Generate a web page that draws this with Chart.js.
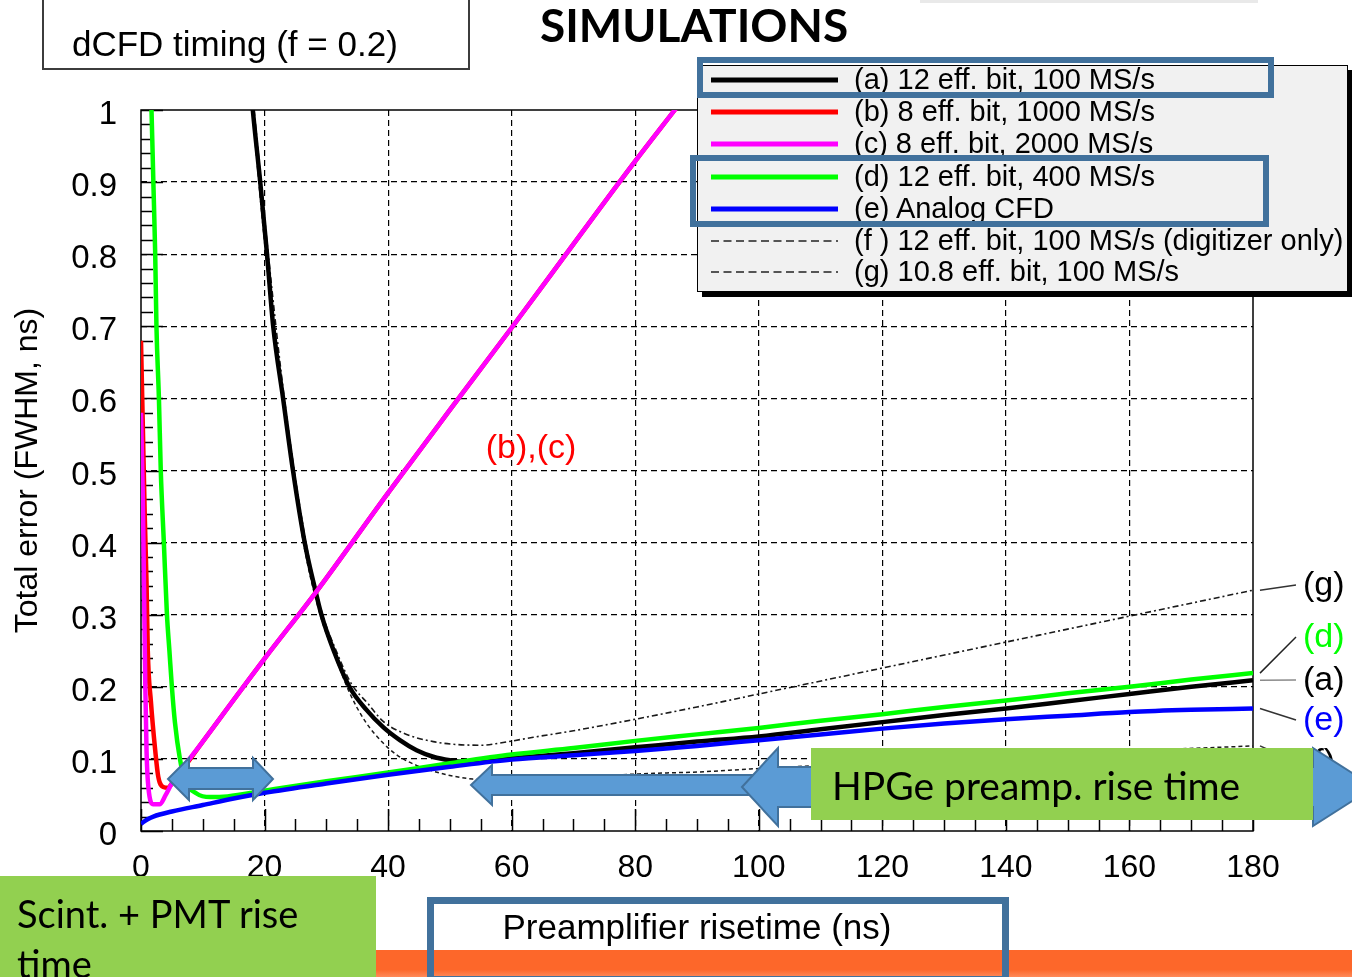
<!DOCTYPE html>
<html>
<head>
<meta charset="utf-8">
<title>dCFD timing - total error vs preamplifier risetime</title>
<script src="https://cdn.jsdelivr.net/npm/chart.js@4.4.1/dist/chart.umd.min.js"></script>
<style>
  html, body { margin: 0; padding: 0; background: #fff; }
  #wrap { position: relative; width: 1352px; height: 977px; overflow: hidden; font-family: 'Liberation Sans', Arial, sans-serif; color: #000; }
  #plot { position: absolute; left: 0; top: 0; }
  .abs { position: absolute; white-space: nowrap; }
  #topStrip { left: 920px; top: 0; width: 338px; height: 3px; background: #e9e9e9; }
  #infoBox { left: 42px; top: -20px; width: 428px; height: 90px; box-sizing: border-box; border: 2px solid #3c3c3c; }
  #infoText { left: 72px; top: 26px; font-size: 35px; line-height: 35px; }
  #simTitle { left: 540px; top: 2px; font-family: Lato, sans-serif; font-weight: 700; font-size: 46px; line-height: 46px; }
  #legendBox { left: 697px; top: 65px; width: 651px; height: 227px; box-sizing: border-box; background: #f1f1f1; border: 1px solid #000; box-shadow: 5px 5px 0 0 #000; }
  .legRow { position: absolute; left: 0; height: 0; }
  .legText { position: absolute; left: 156px; top: -15px; font-size: 29px; line-height: 29px; white-space: nowrap; }
  .legLine { position: absolute; left: 13px; top: -5px; }
  .hiBox { position: absolute; box-sizing: border-box; border: 6px solid #41719c; }
  #hiA { left: 697px; top: 57px; width: 577px; height: 41px; }
  #hiDE { left: 690px; top: 155px; width: 579px; height: 72px; }
  #hiX { left: 427px; top: 897px; width: 582px; height: 86px; border-width: 7px; }
  #arrows { position: absolute; left: 0; top: 0; }
  #hpgeBox { left: 811px; top: 748px; width: 502px; height: 72px; background: #92d050; }
  #hpgeText { left: 21px; top: 18px; font-family: Lato, sans-serif; font-size: 39px; line-height: 39px; }
  #orangeBar { left: 376px; top: 950px; width: 976px; height: 27px; background: linear-gradient(#fd672a 0, #fd672a 72%, #fe8a5a 100%); }
  #scintBox { left: 0; top: 876px; width: 376px; height: 101px; background: #92d050; }
  #scintText { left: 17px; top: 12px; font-family: Lato, sans-serif; font-size: 38px; line-height: 50px; white-space: normal; width: 340px; }
</style>
</head>
<body>
<div id="wrap">
  <canvas id="plot" width="1352" height="977"></canvas>
  <div class="abs" id="topStrip"></div>
  <div class="abs" id="infoBox"></div>
  <div class="abs" id="infoText">dCFD timing (f = 0.2)</div>
  <div class="abs" id="simTitle">SIMULATIONS</div>
  <div class="abs" id="legendBox"></div>
  <div class="hiBox" id="hiA"></div>
  <div class="hiBox" id="hiDE"></div>
  <svg id="arrows" width="1352" height="977">
    <g fill="#5b9bd5" stroke="#41719c" stroke-width="2" stroke-linejoin="miter">
      <polygon points="168,779 189,758 189,768 253,768 253,758 273,779 253,800 253,789 189,789 189,800"/>
      <polygon points="471,785 492,765 492,775 770,775 770,795 492,795 492,805"/>
      <polygon points="742,787 778,748 778,767 1313,767 1313,748 1374,787 1313,826 1313,807 778,807 778,826"/>
    </g>
  </svg>
  <div class="abs" id="hpgeBox"><div class="abs" id="hpgeText">HPGe preamp. rise time</div></div>
  <div class="abs" id="orangeBar"></div>
  <div class="abs" id="scintBox"><div class="abs" id="scintText">Scint. + PMT rise time</div></div>
  <div class="hiBox" id="hiX"></div>
</div>

<script>
// Total error (FWHM, ns) vs preamplifier risetime (ns), dCFD with f = 0.2

const seriesNames = [
  '(a) 12 eff. bit, 100 MS/s',
  '(b) 8 eff. bit, 1000 MS/s',
  '(c) 8 eff. bit, 2000 MS/s',
  '(d) 12 eff. bit, 400 MS/s',
  '(e) Analog CFD',
  '(f ) 12 eff. bit, 100 MS/s (digitizer only)',
  '(g) 10.8 eff. bit, 100 MS/s'
];
const tagNames = ['(a)', '(b)', '(c)', '(d)', '(e)', '(f)', '(g)'];

// (a) 12 eff. bit, 100 MS/s
const riseA = [17.6, 18.1, 19.3, 20.4, 21.4, 23.0, 24.6, 26.5, 28.3, 29.2, 31.2, 33.8, 36.5, 39.2, 41.9, 44.6, 47.3, 50.0, 52.0, 55, 60, 70, 80, 90, 100, 110, 120, 130, 140, 150, 160, 170, 180];
const errA = [1.05, 1.0, 0.9, 0.8, 0.7, 0.6, 0.5, 0.4, 0.331, 0.3, 0.25, 0.199, 0.168, 0.144, 0.126, 0.112, 0.103, 0.098, 0.096, 0.097, 0.101, 0.108, 0.116, 0.124, 0.131, 0.141, 0.151, 0.161, 0.170, 0.180, 0.190, 0.200, 0.209];

// (b) 8 eff. bit, 1000 MS/s
const riseB = [0, 0.3, 0.6, 0.9, 1.1, 1.6, 2.3, 2.8, 3.6, 4.4, 5.0, 10, 20, 28.3, 40, 50, 60, 70, 80, 86.4, 90];
const errB = [0.68, 0.56, 0.44, 0.343, 0.25, 0.18, 0.112, 0.075, 0.061, 0.060, 0.066, 0.124, 0.239, 0.331, 0.469, 0.584, 0.698, 0.814, 0.929, 1.0, 1.04];

// (c) 8 eff. bit, 2000 MS/s
const riseC = [0, 0.3, 0.5, 0.7, 0.9, 1.2, 2.0, 3.0, 4.0, 5.0, 10, 20, 28.3, 40, 50, 60, 70, 80, 86.4, 90];
const errC = [0.58, 0.46, 0.33, 0.2, 0.11, 0.06, 0.037, 0.037, 0.05, 0.066, 0.124, 0.239, 0.331, 0.469, 0.584, 0.698, 0.814, 0.929, 1.0, 1.04];

// (d) 12 eff. bit, 400 MS/s
const riseD = [1.5, 1.7, 2.0, 2.3, 2.5, 2.9, 3.2, 3.7, 4.2, 4.6, 5.0, 5.5, 6.3, 7.1, 9.0, 11.2, 14, 20, 30, 40, 50, 60, 70, 80, 90, 100, 110, 120, 130, 140, 150, 160, 170, 180];
const errD = [1.05, 1.0, 0.9, 0.8, 0.7, 0.6, 0.5, 0.4, 0.3, 0.25, 0.2, 0.15, 0.1, 0.071, 0.052, 0.047, 0.048, 0.056, 0.069, 0.081, 0.094, 0.106, 0.115, 0.125, 0.134, 0.143, 0.153, 0.162, 0.172, 0.181, 0.191, 0.200, 0.210, 0.219];

// (e) analog CFD
const riseE = [0, 1, 2, 5, 10, 15, 20, 30, 40, 50, 60, 70, 80, 90, 100, 110, 120, 130, 140, 150, 160, 170, 180];
const errE = [0.010, 0.016, 0.020, 0.027, 0.036, 0.045, 0.053, 0.066, 0.078, 0.089, 0.099, 0.105, 0.111, 0.118, 0.126, 0.134, 0.142, 0.149, 0.155, 0.160, 0.165, 0.168, 0.170];

// (f) 12 eff. bit, 100 MS/s, digitizer only
const riseF = [18.0, 20.2, 23.0, 26.3, 29.0, 31.3, 33.8, 36.3, 39.2, 41.5, 44.6, 47.3, 50.0, 53.7, 57, 65, 75, 83, 90.5, 98.6, 120, 140, 160, 180];
const errF = [1.0, 0.8, 0.6, 0.4, 0.3, 0.245, 0.191, 0.152, 0.122, 0.105, 0.091, 0.083, 0.077, 0.072, 0.070, 0.073, 0.077, 0.080, 0.082, 0.086, 0.095, 0.103, 0.111, 0.118];

// (g) 10.8 eff. bit, 100 MS/s
const riseG = [18.3, 20.6, 23.2, 26.7, 29.4, 31.5, 34.0, 36.8, 39.2, 43.0, 47.3, 51.0, 55.4, 58.1, 63.5, 70, 80, 90, 100, 120, 140, 160, 180];
const errG = [1.0, 0.8, 0.6, 0.4, 0.3, 0.252, 0.205, 0.176, 0.152, 0.134, 0.124, 0.120, 0.119, 0.122, 0.130, 0.139, 0.155, 0.172, 0.190, 0.226, 0.262, 0.298, 0.334];

const seriesColors = ['#000000', '#ff0000', '#ff00ff', '#00ff00', '#0000ff', '#1a1a1a', '#1a1a1a'];
const seriesDash = [[], [], [], [], [], [4, 3], [6, 3, 2, 3]];
const seriesWidth = [4.5, 4.5, 4.5, 4.5, 4.5, 1.5, 1.6];
// lower value is painted later (on top)
const seriesOrder = [5, 2, 1, 4, 3, 7, 6];

const xTicks = { min: 0, max: 180, step: 20, minor: 5 };
const yTicks = { min: 0, max: 1, step: 0.1, minor: 0.02 };

const FONT = "'Liberation Sans', Arial, sans-serif";

function points(xs, ys) {
  return xs.map((x, i) => ({ x: x, y: ys[i] }));
}

const allRise = [riseA, riseB, riseC, riseD, riseE, riseF, riseG];
const allErr = [errA, errB, errC, errD, errE, errF, errG];

const datasets = seriesNames.map((name, i) => ({
  label: name,
  data: points(allRise[i], allErr[i]),
  borderColor: seriesColors[i],
  borderWidth: seriesWidth[i],
  borderDash: seriesDash[i],
  pointRadius: 0,
  fill: false,
  cubicInterpolationMode: 'monotone',
  order: seriesOrder[i],
  clip: 0,
}));

// inward ticks + frame around the plot area, like the ROOT canvas
const frameTicks = {
  id: 'frameTicks',
  beforeDatasetsDraw(chart) {
    const { ctx, chartArea: a, scales: { x, y } } = chart;
    ctx.save();
    ctx.strokeStyle = '#000';
    ctx.lineWidth = 1.5;
    ctx.beginPath();
    for (let v = xTicks.min; v <= xTicks.max + 1e-9; v += xTicks.minor) {
      const px = Math.round(x.getPixelForValue(v)) + 0.5;
      const len = Math.abs(v / xTicks.step - Math.round(v / xTicks.step)) < 1e-6 ? 22 : 12;
      ctx.moveTo(px, a.bottom);
      ctx.lineTo(px, a.bottom - len);
    }
    const nMinor = Math.round((yTicks.max - yTicks.min) / yTicks.minor);
    const perMajor = Math.round(yTicks.step / yTicks.minor);
    for (let i = 0; i <= nMinor; i++) {
      const py = Math.round(y.getPixelForValue(yTicks.min + i * yTicks.minor)) + 0.5;
      const len = i % perMajor === 0 ? 22 : 12;
      ctx.moveTo(a.left, py);
      ctx.lineTo(a.left + len, py);
    }
    ctx.stroke();
    ctx.strokeRect(a.left, a.top, a.right - a.left, a.bottom - a.top);
    ctx.restore();
  },
};

// curve tags at the right edge with leader lines
const endTags = {
  id: 'endTags',
  afterDraw(chart) {
    const { ctx, chartArea: a, scales: { y } } = chart;
    const tags = [
      { idx: 6, color: '#000', line: '#333', ty: 585 },
      { idx: 3, color: '#00ff00', line: '#222', ty: 637 },
      { idx: 0, color: '#000', line: '#8a8a8a', ty: 680 },
      { idx: 4, color: '#0000ff', line: '#333', ty: 720 },
      { idx: 5, color: '#000', line: '#333', ty: 762 },
    ];
    ctx.save();
    ctx.font = '34px ' + FONT;
    ctx.textBaseline = 'middle';
    ctx.lineWidth = 1.5;
    tags.forEach(t => {
      const ys = allErr[t.idx];
      const y0 = y.getPixelForValue(ys[ys.length - 1]);
      ctx.strokeStyle = t.line;
      ctx.beginPath();
      ctx.moveTo(a.right + 7, y0);
      ctx.lineTo(a.right + 43, t.ty);
      ctx.stroke();
      ctx.fillStyle = t.color;
      ctx.fillText(tagNames[t.idx], a.right + 50, t.ty + 1);
    });
    // shared label for the two fast-sampling curves
    ctx.fillStyle = '#ff0000';
    ctx.textAlign = 'center';
    ctx.fillText(tagNames[1] + ',' + tagNames[2], 531, 449);
    ctx.restore();
  },
};

Chart.defaults.font.family = FONT;
Chart.defaults.color = '#000';

const chart = new Chart(document.getElementById('plot'), {
  type: 'line',
  data: { datasets: datasets },
  plugins: [frameTicks, endTags],
  options: {
    responsive: false,
    animation: false,
    devicePixelRatio: 1,
    layout: { padding: { left: 0, top: 110, right: 99, bottom: 0 } },
    plugins: { legend: { display: false }, tooltip: { enabled: false } },
    scales: {
      x: {
        type: 'linear',
        min: xTicks.min,
        max: xTicks.max,
        ticks: { stepSize: xTicks.step, font: { size: 32 }, color: '#000', padding: 18, maxRotation: 0 },
        grid: {
          drawTicks: false,
          color: c => (c.tick.value === xTicks.min || c.tick.value === xTicks.max) ? 'rgba(0,0,0,0)' : '#000',
          lineWidth: 1.2,
        },
        border: { display: false, dash: [6, 4] },
        title: { display: true, text: 'Preamplifier risetime (ns)', font: { size: 35 }, color: '#000', padding: { top: 0, bottom: 27 } },
        afterFit: s => { s.height = 146; },
      },
      y: {
        type: 'linear',
        min: yTicks.min,
        max: yTicks.max,
        ticks: {
          stepSize: yTicks.step,
          font: { size: 33 },
          color: '#000',
          padding: 24,
          labelOffset: 5,
          callback: v => String(Number(v.toFixed(1))),
        },
        grid: {
          drawTicks: false,
          color: c => (c.tick.value === yTicks.min || c.tick.value === yTicks.max) ? 'rgba(0,0,0,0)' : '#000',
          lineWidth: 1.2,
        },
        border: { display: false, dash: [6, 4] },
        title: { display: true, text: 'Total error (FWHM, ns)', font: { size: 32 }, color: '#000', padding: { top: 9, bottom: 0 } },
        afterFit: s => { s.width = 141; },
      },
    },
  },
});

// legend box built from the chart's own datasets
const legendBox = document.getElementById('legendBox');
const rowY = [14, 46, 78, 111, 143, 175, 206];
chart.data.datasets.forEach((ds, i) => {
  const row = document.createElement('div');
  row.className = 'legRow';
  row.style.top = rowY[i] + 'px';
  const dashed = ds.borderDash && ds.borderDash.length > 0;
  row.innerHTML = `
    <svg class="legLine" width="130" height="10">
      <line x1="0" y1="5" x2="127" y2="5" stroke="${dashed ? '#222' : ds.borderColor}"
        stroke-width="${dashed ? 1.3 : 5}" ${dashed ? 'stroke-dasharray="8 4.5"' : ''}/>
    </svg>
    <div class="legText">${ds.label}</div>
  `;
  legendBox.appendChild(row);
});
</script>
</body>
</html>
